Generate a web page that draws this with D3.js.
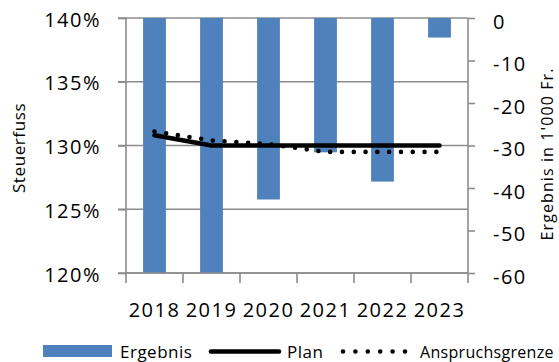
<!DOCTYPE html>
<html>
<head>
<meta charset="utf-8">
<script src="https://cdn.jsdelivr.net/npm/d3@7"></script>
<style>
  html, body { margin: 0; padding: 0; background: #fff; }
  svg text { font-family: "Open Sans", "Liberation Sans", sans-serif; fill: #000; }
</style>
</head>
<body>
<svg id="chart" width="559" height="362"></svg>
<script>
// Jahre und Werte
const years = ["2018", "2019", "2020", "2021", "2022", "2023"];
const ergebnis = [-60, -60, -42.7, -31.6, -38.5, -4.6];          // in 1'000 Fr.
const plan = [130.8, 130.0, 130.0, 130.0, 130.0, 130.0];          // Steuerfuss in %
const anspruchsgrenze = [131.1, 130.4, 130.1, 129.5, 129.5, 129.5]; // Steuerfuss in %
const leftTicks = [120, 125, 130, 135, 140];
const rightTicks = [0, -10, -20, -30, -40, -50, -60];
const legendLabels = ["Ergebnis", "Plan", "Anspruchsgrenze"];

const barColor = "#4f81bd";
const gridColor = "#8c8c8c";

const svg = d3.select("#chart");
const plot = { left: 126, right: 468, top: 18, bottom: 273 };

const x = d3.scaleBand()
  .domain(years)
  .range([plot.left, plot.right])
  .paddingInner(0.6)
  .paddingOuter(0.3);

const yLeft = d3.scaleLinear().domain([120, 140]).range([plot.bottom, plot.top]);
const yRight = d3.scaleLinear().domain([-60, 0]).range([plot.bottom, plot.top]).clamp(true);

// horizontale Gitterlinien
svg.append("g")
  .selectAll("line")
  .data(leftTicks)
  .join("line")
  .attr("x1", plot.left - 8)
  .attr("x2", plot.right)
  .attr("y1", d => yLeft(d))
  .attr("y2", d => yLeft(d))
  .attr("stroke", gridColor)
  .attr("stroke-width", 1.6);

// Balken: Ergebnis hängt von 0 nach unten
svg.append("g")
  .selectAll("rect")
  .data(years.map((y, i) => ({ year: y, value: ergebnis[i] })))
  .join("rect")
  .attr("x", d => x(d.year))
  .attr("width", x.bandwidth())
  .attr("y", yRight(0))
  .attr("height", d => yRight(d.value) - yRight(0))
  .attr("fill", barColor);

// linke Achse (Steuerfuss)
const axisLeft = d3.axisLeft(yLeft)
  .tickValues(leftTicks)
  .tickSize(8)
  .tickPadding(17)
  .tickFormat(d => d + "%");
const gL = svg.append("g")
  .attr("transform", `translate(${plot.left},0)`)
  .call(axisLeft);

// rechte Achse (Ergebnis)
const axisRight = d3.axisRight(yRight)
  .tickValues(rightTicks)
  .tickSize(7)
  .tickPadding(18)
  .tickFormat(d => d === 0 ? "0" : "-" + Math.abs(d));
const gR = svg.append("g")
  .attr("transform", `translate(${plot.right},0)`)
  .call(axisRight);

// x-Achse mit Trennstrichen zwischen den Kategorien
const axisBottom = d3.axisBottom(x).tickSize(0).tickPadding(30);
const gB = svg.append("g")
  .attr("transform", `translate(0,${plot.bottom})`)
  .call(axisBottom);
gB.selectAll(".tick").select("line").remove();
const step = x.step();
const bounds = d3.range(years.length + 1).map(i => plot.left + i * step);
gB.selectAll("line.sep")
  .data(bounds)
  .join("line")
  .attr("class", "sep")
  .attr("x1", d => d).attr("x2", d => d)
  .attr("y1", 0).attr("y2", 10)
  .attr("stroke", gridColor)
  .attr("stroke-width", 1.6);

[gL, gR, gB].forEach(g => {
  g.select(".domain").attr("stroke", gridColor).attr("stroke-width", 1.6);
  g.selectAll(".tick line").attr("stroke", gridColor).attr("stroke-width", 1.6);
  g.selectAll("text")
    .attr("font-size", 20)
    .style("letter-spacing", "1.5px")
    .attr("fill", "#000");
});
gL.select(".domain").attr("d", `M0,${plot.top}V${plot.bottom}`);
gR.select(".domain").attr("d", `M0,${plot.top}V${plot.bottom}`);
gB.select(".domain").attr("d", `M${plot.left},0H${plot.right}`);
gL.selectAll("text").attr("dy", "0.4em");
gR.selectAll("text").attr("text-anchor", "start").attr("dy", "0.5em");

// Linien
const lineGen = d3.line()
  .x((d, i) => x(years[i]) + x.bandwidth() / 2)
  .y(d => yLeft(d));

svg.append("path")
  .datum(anspruchsgrenze)
  .attr("d", lineGen)
  .attr("fill", "none")
  .attr("stroke", "#000")
  .attr("stroke-width", 4.6)
  .attr("stroke-linecap", "round")
  .attr("stroke-dasharray", "0 11.8");

svg.append("path")
  .datum(plan)
  .attr("d", lineGen)
  .attr("fill", "none")
  .attr("stroke", "#000")
  .attr("stroke-width", 4.6)
  .attr("stroke-linecap", "round")
  .attr("stroke-linejoin", "round");

// Achsentitel
svg.append("text")
  .attr("transform", "translate(25,148) rotate(-90)")
  .attr("text-anchor", "middle")
  .attr("font-size", 17)
  .style("letter-spacing", "0.6px")
  .text("Steuerfuss");

svg.append("text")
  .attr("transform", "translate(553,154) rotate(-90)")
  .attr("text-anchor", "middle")
  .attr("font-size", 16)
  .style("letter-spacing", "1.1px")
  .text("Ergebnis in 1'000 Fr.");

// Legende
const lg = svg.append("g");
lg.append("rect")
  .attr("x", 43).attr("y", 345).attr("width", 69).attr("height", 12)
  .attr("fill", barColor);
lg.append("text").attr("x", 120).attr("y", 358).attr("font-size", 17)
  .style("letter-spacing", "0.5px").text(legendLabels[0]);

lg.append("line")
  .attr("x1", 211).attr("x2", 279).attr("y1", 351.5).attr("y2", 351.5)
  .attr("stroke", "#000").attr("stroke-width", 4.6).attr("stroke-linecap", "round");
lg.append("text").attr("x", 287).attr("y", 358).attr("font-size", 17)
  .style("letter-spacing", "0.5px").text(legendLabels[1]);

lg.append("line")
  .attr("x1", 343).attr("x2", 406).attr("y1", 351.5).attr("y2", 351.5)
  .attr("stroke", "#000").attr("stroke-width", 4.6).attr("stroke-linecap", "round")
  .attr("stroke-dasharray", "0 12.4");
lg.append("text").attr("x", 420).attr("y", 358).attr("font-size", 16)
  .style("letter-spacing", "0.3px").text(legendLabels[2]);
</script>
</body>
</html>
